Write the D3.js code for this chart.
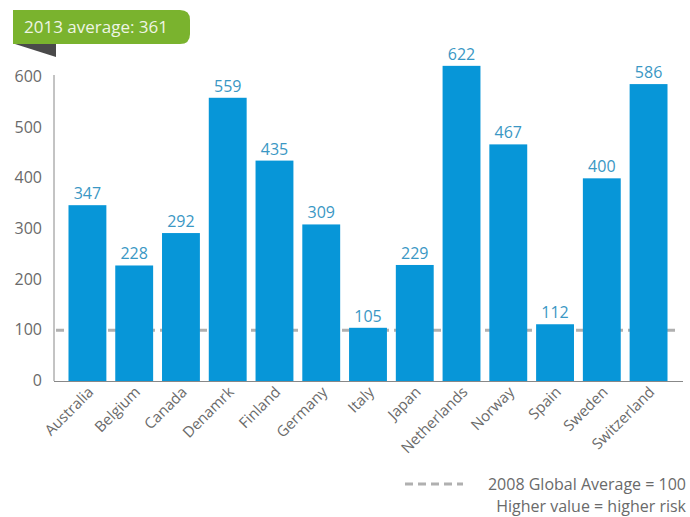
<!DOCTYPE html>
<html>
<head>
<meta charset="utf-8">
<script src="https://cdn.jsdelivr.net/npm/d3@7"></script>
<style>
  body { margin: 0; background: #fff; }
  svg { font-family: "Open Sans", "Noto Sans", sans-serif; }
</style>
</head>
<body>
<div id="chart"></div>
<script>
// Data
var countries = ["Australia", "Belgium", "Canada", "Denamrk", "Finland", "Germany", "Italy",
  "Japan", "Netherlands", "Norway", "Spain", "Sweden", "Switzerland"];
var values = [347, 228, 292, 559, 435, 309, 105, 229, 622, 467, 112, 400, 586];
var yTicks = [0, 100, 200, 300, 400, 500, 600];
var globalAverage = 100;
var titleText = "2013 average: 361";
var legendText = ["2008 Global Average = 100", "Higher value = higher risk"];

var width = 690;
var height = 517;

var svg = d3.select("#chart")
  .append("svg")
  .attr("width", width)
  .attr("height", height);

var xScale = d3.scaleBand()
  .domain(countries)
  .range([54, 682])
  .paddingInner(0.19)
  .paddingOuter(0.31);

var yScale = d3.scaleLinear()
  .domain([0, 600])
  .range([381, 77]);

// y axis labels
svg.append("g")
  .selectAll("text")
  .data(yTicks)
  .enter()
  .append("text")
  .attr("x", 42)
  .attr("y", function(d) { return yScale(d) + 5; })
  .attr("text-anchor", "end")
  .attr("font-size", "16px")
  .attr("fill", "#6a6a6a")
  .text(function(d) { return d; });

// axis lines
svg.append("line")
  .attr("x1", 54).attr("x2", 54)
  .attr("y1", 75).attr("y2", yScale(0))
  .attr("stroke", "#888").attr("stroke-width", 1);

svg.append("line")
  .attr("x1", 54).attr("x2", 683)
  .attr("y1", yScale(0) + 0.5).attr("y2", yScale(0) + 0.5)
  .attr("stroke", "#888").attr("stroke-width", 1);

// global average reference line (behind bars)
svg.append("line")
  .attr("x1", 56).attr("x2", 676)
  .attr("y1", yScale(globalAverage)).attr("y2", yScale(globalAverage))
  .attr("stroke", "#b0b0b0")
  .attr("stroke-width", 3)
  .attr("stroke-dasharray", "8,5");

// bars
svg.append("g")
  .selectAll("rect")
  .data(values)
  .enter()
  .append("rect")
  .attr("x", function(d, i) { return xScale(countries[i]); })
  .attr("y", function(d) { return yScale(d); })
  .attr("width", xScale.bandwidth())
  .attr("height", function(d) { return yScale(0) - yScale(d); })
  .attr("fill", "#0796d8");

// value labels
svg.append("g")
  .selectAll("text")
  .data(values)
  .enter()
  .append("text")
  .attr("x", function(d, i) { return xScale(countries[i]) + xScale.bandwidth() / 2; })
  .attr("y", function(d) { return yScale(d) - 6; })
  .attr("text-anchor", "middle")
  .attr("font-size", "16px")
  .attr("fill", "#3a97c4")
  .text(function(d) { return d; });

// category labels
svg.append("g")
  .selectAll("text")
  .data(countries)
  .enter()
  .append("text")
  .attr("transform", function(d) {
    return "translate(" + (xScale(d) + xScale.bandwidth() / 2 + 7) + "," + 393 + ") rotate(-45)";
  })
  .attr("text-anchor", "end")
  .attr("font-size", "15px")
  .attr("fill", "#6a6a6a")
  .text(function(d) { return d; });

// title badge
svg.append("path")
  .attr("d", "M15,44 L56,44 L56,57 Z")
  .attr("fill", "#4a4a4a");

svg.append("path")
  .attr("d", "M13,10 L180,10 Q190,10 190,20 L190,34 Q190,44 180,44 L13,44 Z")
  .attr("fill", "#7ab32e");

svg.append("text")
  .attr("x", 24)
  .attr("y", 33)
  .attr("font-size", "17px")
  .attr("fill", "#eef5e4")
  .text(titleText);

// legend
svg.append("line")
  .attr("x1", 405).attr("x2", 463)
  .attr("y1", 484).attr("y2", 484)
  .attr("stroke", "#b0b0b0")
  .attr("stroke-width", 3)
  .attr("stroke-dasharray", "8,5");

svg.append("text")
  .attr("x", 686)
  .attr("y", 490)
  .attr("text-anchor", "end")
  .attr("font-size", "16px")
  .attr("fill", "#6a6a6a")
  .text(legendText[0]);

svg.append("text")
  .attr("x", 686)
  .attr("y", 512)
  .attr("text-anchor", "end")
  .attr("font-size", "16px")
  .attr("fill", "#6a6a6a")
  .text(legendText[1]);
</script>
</body>
</html>
